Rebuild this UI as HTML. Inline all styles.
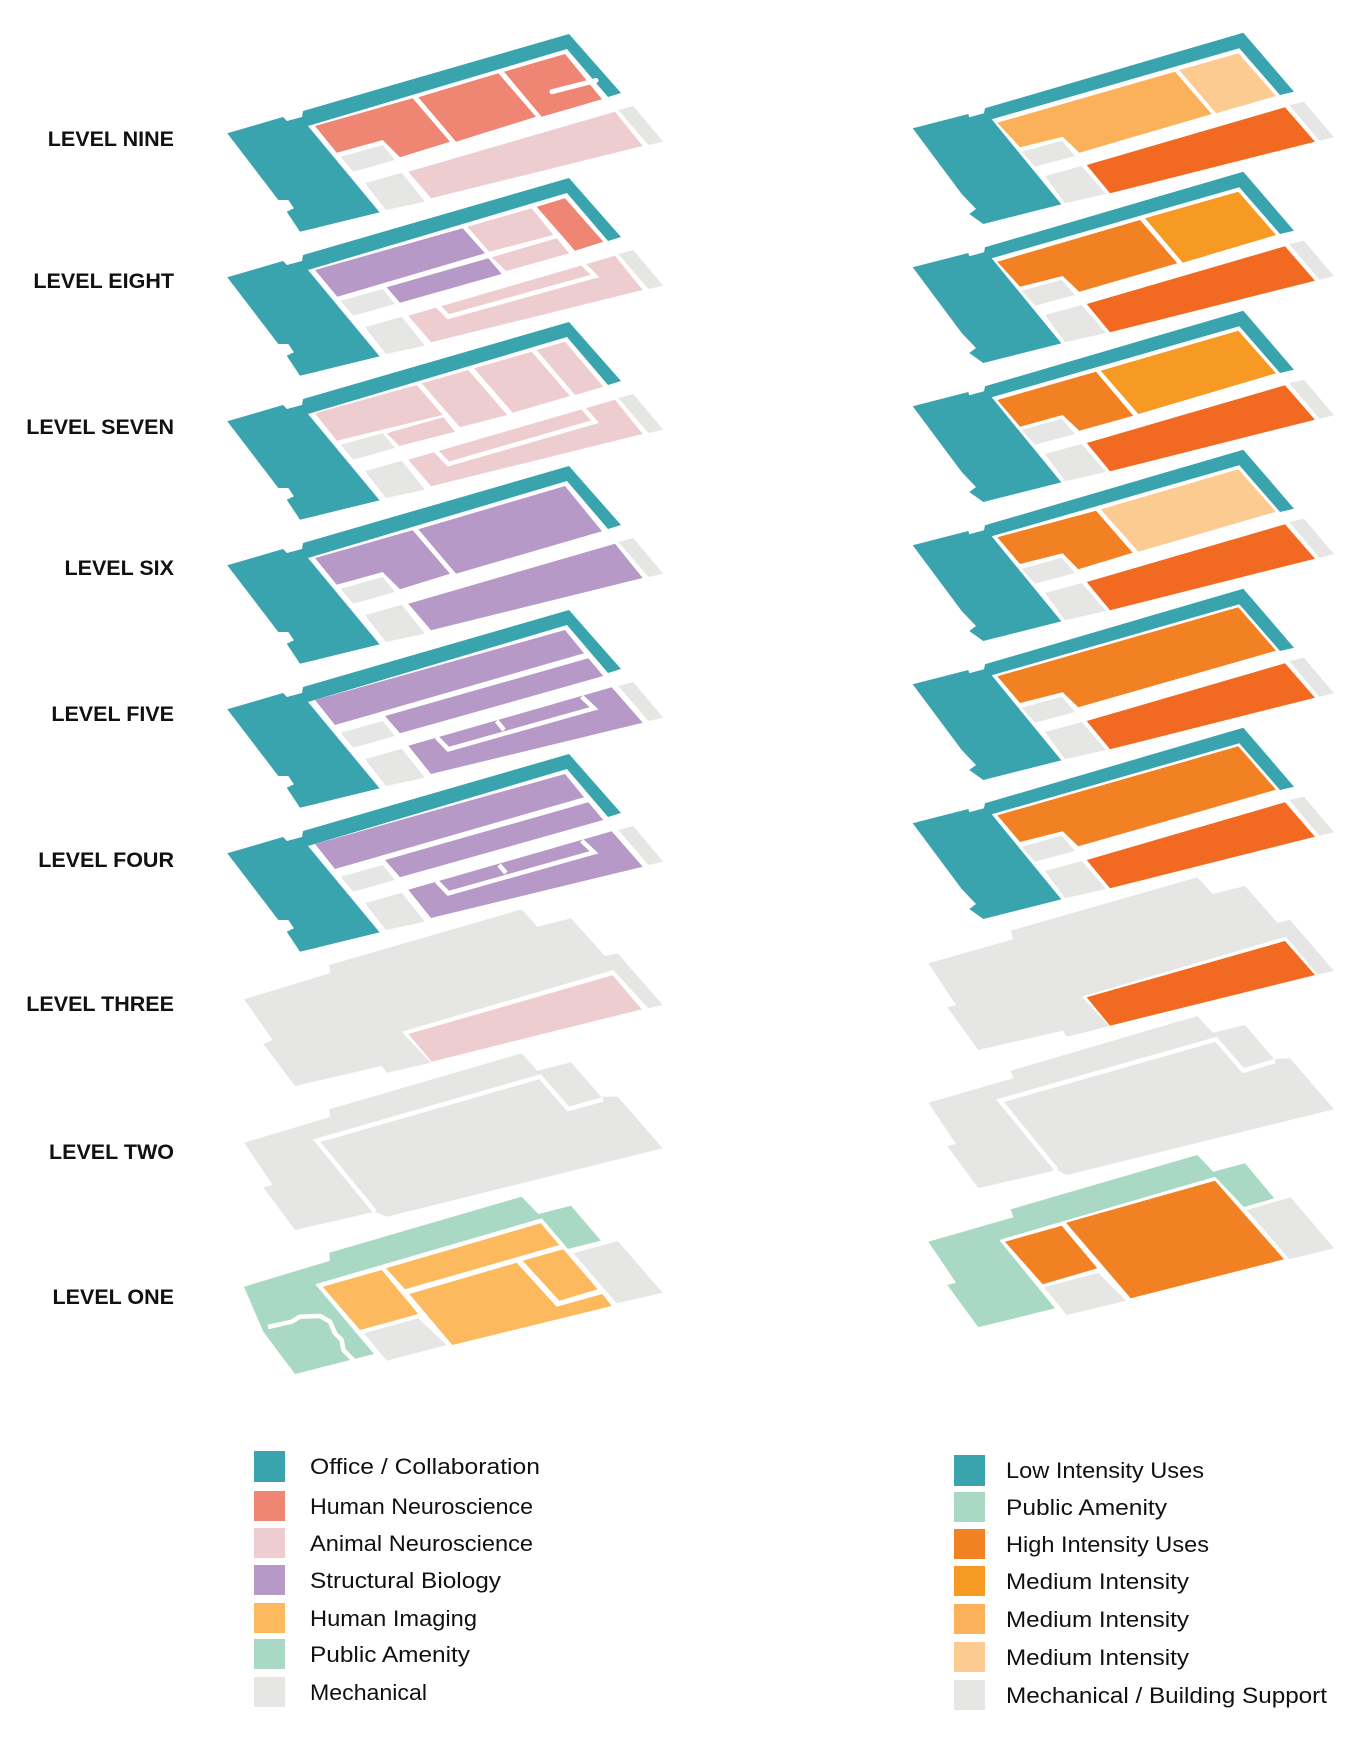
<!DOCTYPE html>
<html><head><meta charset="utf-8"><style>
html,body{margin:0;padding:0;background:#fff;}
svg{display:block;}
.lbl{font-family:"Liberation Sans",sans-serif;font-weight:bold;font-size:21.5px;fill:#111;}
.lg{font-family:"Liberation Sans",sans-serif;font-size:22px;fill:#111;}
</style></head><body>
<svg width="1366" height="1738" viewBox="0 0 1366 1738" xmlns="http://www.w3.org/2000/svg">
<defs>
<g id="Lframe">
<polygon fill="#39A4AE" points="227.3,133.3 283,117 287,121 302,117 303,111 569,34 621,93 608,97 381,212 300,231.7 286.7,211.7 294,208.3 288.3,200 278.3,200"/>
<polygon fill="#fff" points="308,126 567,49 608,97 680,160 381,214"/>
</g>
<g id="Lg">
<polygon fill="#E6E6E5" points="340.7,156.7 382.7,145 395,160 353.3,171.7"/>
<polygon fill="#E6E6E5" points="365,183.3 401.7,172.7 425,201.7 386,210"/>
<polygon fill="#E6E6E5" points="618.3,110 633.3,106 663.3,141.7 648.3,145"/>
</g>
<g id="Rframe">
<polygon fill="#39A4AE" points="912.7,128.3 968.3,114 969.3,117.3 984,113.3 985,108.3 1243.3,32.7 1294,91.7 1280,95 1062.7,204 983.3,224 969.3,214 976,209 969.3,202 961.7,194"/>
<polygon fill="#fff" points="991.7,119.3 1239.3,48.3 1280,95 1350,170 1062.7,206"/>
<polygon fill="#E6E6E5" points="1021.7,151.7 1061.7,140.7 1075,156 1035,166.7"/>
<polygon fill="#E6E6E5" points="1045,176 1081.7,166 1106,194 1065,203.3"/>
<polygon fill="#F26A21" points="1086.7,165 1285,107.3 1315,141.7 1110,193.3"/>
<polygon fill="#E6E6E5" points="1289.3,105 1304,101.7 1334,137.3 1319.3,140.7"/>
</g>
</defs>

<g>
<use href="#Lframe"/><use href="#Lg"/>
<polygon fill="#EF8573" points="315,126 412.7,98.3 450,141.7 400,157.3 382.7,140 336.7,152.7"/>
<polygon fill="#EF8573" points="418.3,97.3 498.3,73.3 536,116.7 456,141.7"/>
<polygon fill="#EF8573" points="504,71.7 565,54 602,99.3 541.7,116.7"/>
<line x1="552" y1="91.7" x2="596" y2="80.5" stroke="#fff" stroke-width="5" stroke-linecap="round"/>
<polygon fill="#EECDD1" points="408.3,171.7 615,111.7 642.7,146 431,198.3"/>
</g>
<g transform="translate(0,144)">
<use href="#Lframe"/><use href="#Lg"/>
<polygon fill="#B799C8" points="315,126 462.7,84.3 485,109.3 337.3,152.7"/>
<polygon fill="#EECDD1" points="467.3,82.7 531.7,64.3 553.3,91 489.3,107.7"/>
<polygon fill="#EF8573" points="536.7,62.7 565,54.3 603.3,97.7 575,106.7"/>
<polygon fill="#EECDD1" points="491.7,113.3 556.7,94.3 569.3,109.3 506,127"/>
<polygon fill="#B799C8" points="386.7,143.3 488.3,114.3 501.7,130 400,158.7"/>
<polygon fill="#EECDD1" points="408.3,171.7 615,111.7 642.7,146 431,198.3"/>
<polyline fill="none" stroke="#fff" stroke-width="4.5" points="436.7,161 448.3,172.7 595,132 581.7,118.7"/>
</g>
<g transform="translate(0,288)">
<use href="#Lframe"/><use href="#Lg"/>
<polygon fill="#EECDD1" points="315,125.3 416.7,97 442.7,127 336.7,152.7"/>
<polygon fill="#EECDD1" points="421.7,95.3 468.3,82 507.3,127 460,139.3"/>
<polygon fill="#EECDD1" points="474,80.3 531.7,63.7 570,108 512.7,124.7"/>
<polygon fill="#EECDD1" points="536.7,62 565,53.7 603.3,98.7 575,107"/>
<polygon fill="#EECDD1" points="386.7,145.3 443.3,129.3 455,143.7 399.3,158"/>
<polygon fill="#EECDD1" points="408.3,171.7 615,111.7 642.7,146 431,198.3"/>
<polyline fill="none" stroke="#fff" stroke-width="4.5" points="435,162 448.3,176 595,133.7 583.3,120.3"/>
</g>
<g transform="translate(0,432)">
<use href="#Lframe"/><use href="#Lg"/>
<polygon fill="#B799C8" points="315,126 412.7,98.3 450,141.7 400,157.3 382.7,140 336.7,152.7"/>
<polygon fill="#B799C8" points="418.3,97.3 565,54 602,99.3 456,141.7"/>
<polygon fill="#B799C8" points="408.3,171.7 615,111.7 642.7,146 431,198.3"/>
</g>
<g transform="translate(0,576)">
<use href="#Lframe"/><use href="#Lg"/>
<polygon fill="#B799C8" points="315,124 565,54 584,77.3 335,149"/>
<polygon fill="#B799C8" points="385,140 588.3,82.3 603.3,100 400,157.3"/>
<polygon fill="#B799C8" points="408.3,169.7 611.7,111.3 642.7,146.7 431,198"/>
<polyline fill="none" stroke="#fff" stroke-width="4.5" points="436.7,161.3 448.3,173.3 594,132.3 581.7,120.7"/>
<line x1="496.7" y1="145" x2="504" y2="154" stroke="#fff" stroke-width="4.5"/>
</g>
<g transform="translate(0,720)">
<use href="#Lframe"/><use href="#Lg"/>
<polygon fill="#B799C8" points="315,124 565,54 584,77.3 335,149"/>
<polygon fill="#B799C8" points="385,140 588.3,82.3 603.3,100 400,157.3"/>
<polygon fill="#B799C8" points="408.3,169.7 611.7,111.3 642.7,146.7 431,198"/>
<polyline fill="none" stroke="#fff" stroke-width="4.5" points="436.7,161.3 448.3,173.3 594,132.3 581.7,120.7"/>
<line x1="499" y1="145" x2="506" y2="153" stroke="#fff" stroke-width="4.5"/>
</g>
<polygon fill="#E6E6E5" points="244,999.3 330,973.3 329.3,965 521.7,909.3 537.3,926.7 571,918.3 605,956 617.7,953.3 662.7,1005 648.3,1008.3 431,1062.7 386.7,1072.7 381.7,1066 295,1086 263.3,1044 272.7,1040"/>
<polygon fill="#fff" points="401.7,1031.7 613.3,970 648.3,1008.3 431,1062.7"/>
<polygon fill="#EECDD1" points="408.3,1034 612.7,975.3 641.7,1009.3 431.7,1061.7"/>
<polygon fill="#E6E6E5" points="244,1142.7 330,1117 329.3,1109.3 521.7,1053.3 537.3,1070.7 571,1062.3 601,1096.7 617.7,1096.7 662.7,1148.3 386.7,1216.7 375,1211.7 295,1230 263.3,1187.3 272.7,1185"/>
<polyline fill="none" stroke="#fff" stroke-width="4.5" points="375,1211.7 316.7,1140.7 540,1076.7 568.3,1109 603.3,1099.3"/>
<polygon fill="#A9D9C5" points="244,1286.7 330,1260.7 329.3,1252.7 521.7,1196.7 538.3,1214 571,1205.7 601,1240.7 568,1249 374,1354 295,1374 263.3,1331.7 244,1286.7"/>
<polygon fill="#fff" points="315.3,1284.3 541.7,1218.3 568,1249 620,1236 670,1295 385,1365 374,1354"/>
<polyline fill="none" stroke="#fff" stroke-width="4.5" stroke-linejoin="round" points="268,1327 291.7,1321.7 300,1316.7 320,1316 330,1321.7 335,1333.3 341.7,1340 343.3,1350 353.3,1360"/>
<polygon fill="#FCB95E" points="322.7,1286.7 381.7,1270 418.3,1314 360,1330"/>
<polygon fill="#FCB95E" points="386,1268.3 540.7,1223.3 559.3,1245 405,1289.3"/>
<polygon fill="#FCB95E" points="409.3,1294 516.7,1262.7 556.7,1306.7 602.3,1294 611.7,1306 452.3,1345"/>
<polygon fill="#FCB95E" points="522.7,1260.7 563.3,1249.3 597.7,1289.3 559.3,1300.7"/>
<polygon fill="#E6E6E5" points="364,1333.3 418.3,1318.3 446.7,1345 386.7,1360.7"/>
<polygon fill="#E6E6E5" points="573.3,1253.3 617.7,1241 662.7,1292.7 616.7,1303.3"/>

<g>
<use href="#Rframe"/>
<polygon fill="#FAB15A" points="997.3,122.7 1175,71.7 1211.7,114 1079.3,152.7 1062.7,136.7 1020,147.3"/>
<polygon fill="#FBCB91" points="1179.3,70 1238.3,53.3 1276,96 1216,113.3"/>
</g>
<g transform="translate(0,139)">
<use href="#Rframe"/>
<polygon fill="#F28123" points="997.3,122.7 1140,81 1177.3,124.3 1079.3,152.7 1062.7,137 1020,147.7"/>
<polygon fill="#F79A23" points="1145,79.3 1238.3,52.7 1276,96 1182.7,123.7"/>
</g>
<g transform="translate(0,278)">
<use href="#Rframe"/>
<polygon fill="#F28123" points="997.3,122 1096,93.7 1133.3,137.7 1079.3,152.7 1062.7,137 1020,148.7"/>
<polygon fill="#F79A23" points="1100.7,92.7 1238.3,52.7 1276,95.3 1138.3,136"/>
</g>
<g transform="translate(0,417)">
<use href="#Rframe"/>
<polygon fill="#F28123" points="997.3,120.3 1096,93.7 1132.7,135.7 1078.3,152.3 1062.7,136.3 1020,147"/>
<polygon fill="#FBCB91" points="1100.7,92.3 1238.3,52.3 1276,94.7 1138.3,134.7"/>
</g>
<g transform="translate(0,556)">
<use href="#Rframe"/>
<polygon fill="#F28123" points="997.3,120.3 1238.3,51.3 1276,94.7 1078.3,151.3 1062.7,136.3 1020,147"/>
</g>
<g transform="translate(0,695)">
<use href="#Rframe"/>
<polygon fill="#F28123" points="997.3,120.3 1238.3,51.3 1276,94.7 1078.3,151.3 1062.7,136.3 1020,147"/>
</g>
<polygon fill="#E6E6E5" points="928.3,963.3 1013.3,939.3 1010.7,930.7 1197.3,877.3 1212.7,894 1245,886 1277.3,922.7 1290,920 1334,970.7 1110,1026 1066.7,1036.7 1062.7,1030.7 978.3,1050 947.3,1007.3 956,1005"/>
<polygon fill="#fff" points="1081.7,996.7 1286,936.7 1317.3,974.3 1110,1026.7"/>
<polygon fill="#F26A21" points="1086.7,997.3 1285,941 1315,975 1110,1025.7"/>
<polygon fill="#E6E6E5" points="928.3,1102.7 1013.3,1078.3 1010.7,1070.7 1197.3,1016 1212.7,1032.7 1245,1025 1274.3,1059.3 1290,1058.3 1334,1109.3 1066.7,1175 1056.7,1170 978.3,1188.3 947.3,1146 956,1144"/>
<polyline fill="none" stroke="#fff" stroke-width="4.5" points="1056.7,1170 1000,1100.7 1216,1039.3 1243.3,1070.7 1275,1061"/>
<polygon fill="#A9D9C5" points="928.3,1241.7 1013.3,1217.3 1010.7,1209.3 1197.3,1155 1213.3,1171.7 1245,1163.3 1274.3,1198.3 1245,1206.7 1055,1308.3 978.3,1327.3 947.3,1285 956,1282.7"/>
<polygon fill="#fff" points="999.3,1240 1215,1176.7 1245,1208.3 1290,1196.7 1334,1248.3 1130,1299.3 1066.7,1315 1055,1308.3"/>
<polygon fill="#F28123" points="1005,1241.7 1061.7,1225.7 1097.3,1268.3 1042.7,1284.3"/>
<polygon fill="#F28123" points="1066,1222.7 1215,1180.7 1284,1259.3 1130.7,1298.3"/>
<polygon fill="#E6E6E5" points="1044,1287.3 1098.3,1272.7 1126,1300.7 1066.7,1315"/>
<polygon fill="#E6E6E5" points="1246.7,1210 1290.7,1197.3 1334,1248.3 1289.3,1259.3"/>

<g class="lbl" text-anchor="end">
<text x="174" y="146">LEVEL NINE</text>
<text x="174" y="288">LEVEL EIGHT</text>
<text x="174" y="434">LEVEL SEVEN</text>
<text x="174" y="575">LEVEL SIX</text>
<text x="174" y="721">LEVEL FIVE</text>
<text x="174" y="867">LEVEL FOUR</text>
<text x="174" y="1011">LEVEL THREE</text>
<text x="174" y="1159">LEVEL TWO</text>
<text x="174" y="1304">LEVEL ONE</text>
</g>

<g transform="translate(0,-8)">
<rect x="254" y="1459" width="31" height="31" fill="#39A4AE"/>
<rect x="254" y="1499" width="31" height="30" fill="#EF8573"/>
<rect x="254" y="1536" width="31" height="30" fill="#EECDD1"/>
<rect x="254" y="1573" width="31" height="30" fill="#B799C8"/>
<rect x="254" y="1611" width="31" height="30" fill="#FCB95E"/>
<rect x="254" y="1647" width="31" height="30" fill="#A9D9C5"/>
<rect x="254" y="1685" width="31" height="30" fill="#E6E6E5"/>
<g class="lg">
<text x="310" y="1482" textLength="230" lengthAdjust="spacingAndGlyphs">Office / Collaboration</text>
<text x="310" y="1522" textLength="223" lengthAdjust="spacingAndGlyphs">Human Neuroscience</text>
<text x="310" y="1559" textLength="223" lengthAdjust="spacingAndGlyphs">Animal Neuroscience</text>
<text x="310" y="1596" textLength="191" lengthAdjust="spacingAndGlyphs">Structural Biology</text>
<text x="310" y="1634" textLength="167" lengthAdjust="spacingAndGlyphs">Human Imaging</text>
<text x="310" y="1670" textLength="160" lengthAdjust="spacingAndGlyphs">Public Amenity</text>
<text x="310" y="1708" textLength="117" lengthAdjust="spacingAndGlyphs">Mechanical</text>
</g>
</g>
<g transform="translate(0,-8)">
<rect x="954" y="1463" width="31" height="31" fill="#39A4AE"/>
<rect x="954" y="1500" width="31" height="30" fill="#A9D9C5"/>
<rect x="954" y="1537" width="31" height="30" fill="#F28123"/>
<rect x="954" y="1574" width="31" height="30" fill="#F79A23"/>
<rect x="954" y="1612" width="31" height="30" fill="#FAB15A"/>
<rect x="954" y="1650" width="31" height="30" fill="#FBCB91"/>
<rect x="954" y="1688" width="31" height="30" fill="#E6E6E5"/>
<g class="lg">
<text x="1006" y="1486" textLength="198" lengthAdjust="spacingAndGlyphs">Low Intensity Uses</text>
<text x="1006" y="1523" textLength="161" lengthAdjust="spacingAndGlyphs">Public Amenity</text>
<text x="1006" y="1560" textLength="203" lengthAdjust="spacingAndGlyphs">High Intensity Uses</text>
<text x="1006" y="1597" textLength="183" lengthAdjust="spacingAndGlyphs">Medium Intensity</text>
<text x="1006" y="1635" textLength="183" lengthAdjust="spacingAndGlyphs">Medium Intensity</text>
<text x="1006" y="1673" textLength="183" lengthAdjust="spacingAndGlyphs">Medium Intensity</text>
<text x="1006" y="1711" textLength="321" lengthAdjust="spacingAndGlyphs">Mechanical / Building Support</text>
</g>
</g>
</svg>
</body></html>
